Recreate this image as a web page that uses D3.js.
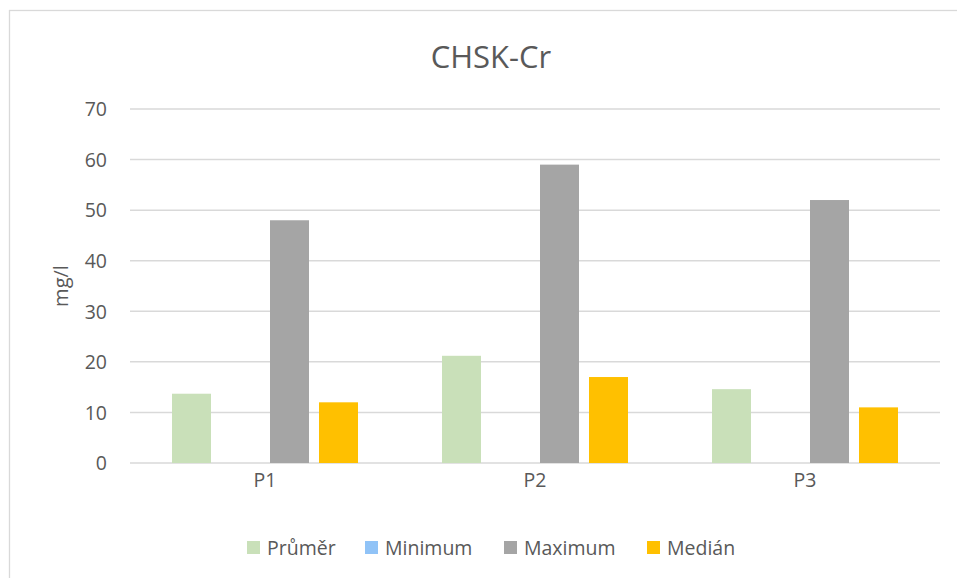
<!DOCTYPE html>
<html><head><meta charset="utf-8">
<script src="https://cdn.jsdelivr.net/npm/d3@7"></script>
<style>body{margin:0;background:#fff}svg{display:block}text{font-family:"Open Sans",Roboto,sans-serif;fill:#595959}</style>
</head><body><svg id="c" width="957" height="578"></svg>
<script>
const categories = ["P1","P2","P3"];
const seriesNames = ["Průměr","Minimum","Maximum","Medián"];
const prumer = [13.7, 21.2, 14.6];
const minimum = [0, 0, 0];
const maximum = [48, 59, 52];
const median = [12, 17, 11];
const yTicks = [0,10,20,30,40,50,60,70];
const colors = ["#c9e0b9","#90c3f7","#a5a5a5","#ffc000"];
const values = [prumer, minimum, maximum, median];

const svg = d3.select("#c");
svg.append("rect").attr("x",9.5).attr("y",10.5).attr("width",960).attr("height",580)
  .attr("fill","#fff").attr("stroke","#d9d9d9").attr("stroke-width",1.3);

const x0 = d3.scaleBand().domain(categories).range([130,940]);
const x1 = d3.scaleBand().domain(seriesNames).range([0,x0.bandwidth()]).paddingInner(10/49).paddingOuter(0.857);
const y = d3.scaleLinear().domain([0,70]).range([463,109]);

const grid = svg.append("g");
grid.selectAll("line").data(yTicks).join("line")
  .attr("x1",130).attr("x2",940).attr("y1",d=>y(d)).attr("y2",d=>y(d))
  .attr("stroke","#d9d9d9").attr("stroke-width",1.5);

const yAxis = d3.axisLeft(y).tickValues(yTicks).tickSize(0).tickPadding(0);
const ya = svg.append("g").attr("transform","translate(107,0)").call(yAxis);
ya.select(".domain").remove();
ya.selectAll("text").style("font-size","19.5px").attr("fill","#595959").attr("dy","0.35em");

const xAxis = d3.axisBottom(x0).tickSize(0).tickPadding(0);
const xa = svg.append("g").attr("transform","translate(0,472)").call(xAxis);
xa.select(".domain").remove();
xa.selectAll("text").style("font-size","19.5px").attr("fill","#595959").attr("dy","0.75em");

const groups = svg.append("g").selectAll("g").data(categories).join("g")
  .attr("transform",d=>`translate(${x0(d)},0)`);
groups.selectAll("rect").data((c,i)=>seriesNames.map((s,j)=>({s,j,v:values[j][i]}))).join("rect")
  .attr("x",d=>x1(d.s)).attr("width",x1.bandwidth())
  .attr("y",d=>y(d.v)).attr("height",d=>y(0)-y(d.v))
  .attr("fill",d=>colors[d.j]);

svg.append("text").attr("x",491).attr("y",68).attr("text-anchor","middle")
  .style("font-size","31px").text("CHSK-Cr");

svg.append("text").attr("transform","translate(68,286) rotate(-90)").attr("text-anchor","middle")
  .style("font-size","20px").text("mg/l");

const legX = [247,365,504,647];
const leg = svg.append("g").selectAll("g").data(seriesNames).join("g")
  .attr("transform",(d,i)=>`translate(${legX[i]},541)`);
leg.append("rect").attr("width",13).attr("height",13).attr("fill",(d,i)=>colors[i]);
leg.append("text").attr("x",20).attr("y",14).style("font-size","19.5px").text(d=>d);
</script></body></html>
